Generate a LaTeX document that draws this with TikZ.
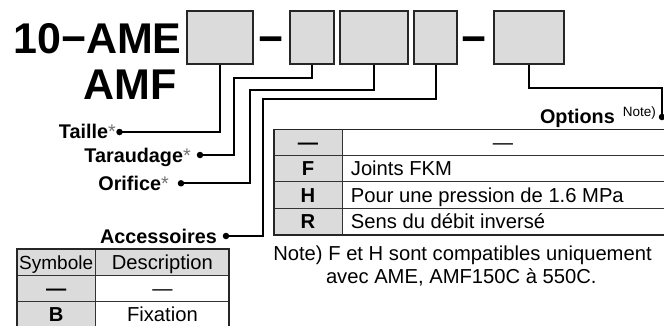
\documentclass[tikz,border=0pt]{standalone}
\usepackage{fontspec}
\setmainfont{Liberation Sans}
\newcommand{\grayast}{\textcolor{black!55}{\mdseries*}}
\begin{document}
\begin{tikzpicture}[x=1pt,y=-1pt,
  box/.style={draw=black!85, line width=2pt, fill=black!14, inner sep=0pt, anchor=north west, minimum height=53pt},
  conn/.style={line width=2pt, line join=miter},
  dot/.style={circle, fill=black, inner sep=0pt, minimum size=6.5pt},
  lbl/.style={font=\fontsize{19.8}{22}\selectfont\bfseries, anchor=base west, inner sep=0pt},
  big/.style={font=\fontsize{43}{48}\selectfont\bfseries, inner sep=0pt},
  txt/.style={font=\fontsize{20.2}{23}\selectfont, inner sep=0pt},
  btxt/.style={font=\fontsize{20.2}{23}\selectfont\bfseries, inner sep=0pt},
  tline/.style={draw=black!80, line width=1pt},
  touter/.style={draw=black!85, line width=1.6pt},
  cellfill/.style={fill=black!14}]
\useasboundingbox (0,0) rectangle (664,325);
% title
\node[big, anchor=base west] (title) at (13,53) {10−AME};
\node[big, anchor=base east] (title2) at (177,99) {AMF};
% boxes
\node[box, minimum width=66pt] (b1) at (186,10) {};
\node[big, anchor=base] (dash1) at (271.5,53) {−};
\node[box, minimum width=44pt] (b2) at (289,10) {};
\node[box, minimum width=68pt] (b3) at (339,10) {};
\node[box, minimum width=43pt] (b4) at (413,10) {};
\node[big, anchor=base] (dash2) at (474.5,53) {−};
\node[box, minimum width=70pt] (b5) at (493,10) {};
% labels
\node[lbl, anchor=base east] (l1) at (116,138) {Taille\grayast};
\node[lbl, anchor=base east] (l2) at (191,162.7) {Taraudage\grayast};
\node[lbl, anchor=base east] (l3) at (169,190.7) {Orifice\grayast};
\node[lbl, anchor=base east] (l4) at (217,243.3) {Accessoires};
\node[lbl, anchor=base east] (l5) at (656,123.3) {Options\hspace{8pt}\raisebox{6.5pt}{\fontsize{13.5}{15}\mdseries Note)}};
% dots
\node[dot] (d1) at (119.5,132) {};
\node[dot] (d2) at (200,155) {};
\node[dot] (d3) at (181,183.3) {};
\node[dot] (d4) at (226,236) {};
\node[dot] (d5) at (662,117) {};
\coordinate (c2) at (234,77.7);
\coordinate (c3) at (250,90);
\coordinate (c4) at (262.7,98.7);
\coordinate (c5) at (662,88);
% connectors
\draw[conn] (b1.south) |- (d1.center);
\draw[conn] (b2.south) |- (c2) |- (d2.center);
\draw[conn] (b3.south) |- (c3) |- (d3.center);
\draw[conn] (b4.south) |- (c4) |- (d4.center);
\draw[conn] (b5.south) |- (c5) -- (d5.center);
% options table
\fill[cellfill] (274,129.3) rectangle (342,234.7);
\foreach \y in {155,181.7,208.3} \draw[tline] (274,\y) -- (664,\y);
\draw[tline] (342,129.3) -- (342,234.7);
\draw[touter] (664,129.3) -- (274,129.3) -- (274,234.7) -- (664,234.7);
\node[btxt, anchor=base] (o1a) at (308,149) {—};
\node[txt, anchor=base] (o1b) at (503,149) {—};
\node[btxt, anchor=base] (o2a) at (308,175.3) {F};
\node[txt, anchor=base west] (o2b) at (350.7,175.3) {Joints FKM};
\node[btxt, anchor=base] (o3a) at (308,202) {H};
\node[txt, anchor=base west] (o3b) at (350.7,202) {Pour une pression de 1.6 MPa};
\node[btxt, anchor=base] (o4a) at (308,228.5) {R};
\node[txt, anchor=base west] (o4b) at (350.7,228.5) {Sens du débit inversé};
% note
\node[txt, anchor=base] (n1) at (462.5,260) {Note) F et H sont compatibles uniquement};
\node[txt, anchor=base] (n2) at (461.3,283.3) {avec AME, AMF150C à 550C.};
% accessories table
\fill[cellfill] (16.7,249) rectangle (229,275.7);
\fill[cellfill] (16.7,275.7) rectangle (95.7,330);
\draw[tline] (16.7,275.7) -- (229,275.7);
\draw[tline] (16.7,301.7) -- (229,301.7);
\draw[tline] (95.7,249) -- (95.7,330);
\draw[touter] (16.7,330) -- (16.7,249) -- (229,249) -- (229,330);
\node[txt, anchor=base] (a1a) at (56.2,269.3) {\fontsize{19}{23}\selectfont Symbole};
\node[txt, anchor=base] (a1b) at (162.4,269.3) {Description};
\node[btxt, anchor=base] (a2a) at (56.2,295.5) {—};
\node[txt, anchor=base] (a2b) at (162.4,295.5) {—};
\node[btxt, anchor=base] (a3a) at (56.2,321.5) {B};
\node[txt, anchor=base] (a3b) at (162.4,321.5) {Fixation};
\end{tikzpicture}
\end{document}
